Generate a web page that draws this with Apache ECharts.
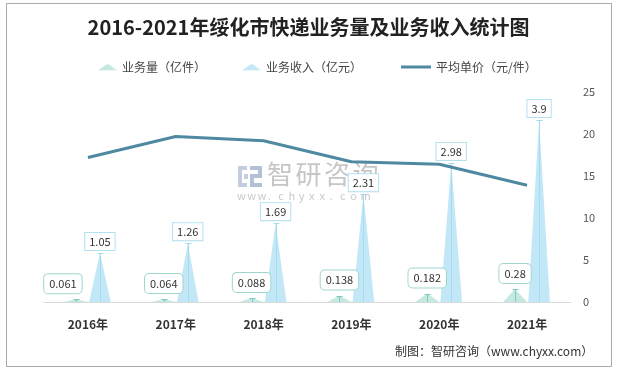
<!DOCTYPE html>
<html>
<head>
<meta charset="utf-8">
<script src="https://cdn.jsdelivr.net/npm/echarts@6/dist/echarts.min.js"></script>
<style>
html,body{margin:0;padding:0;background:#fff;}
#main{width:617px;height:370px;}
</style>
</head>
<body>
<div id="main"></div>
<script>
// ---- data ----
const categories = ['2016年', '2017年', '2018年', '2019年', '2020年', '2021年'];
const volume = [0.061, 0.064, 0.088, 0.138, 0.182, 0.28];      // 业务量（亿件）
const revenue = [1.05, 1.26, 1.69, 2.31, 2.98, 3.9];            // 业务收入（亿元）
const unitPrice = [17.2, 19.7, 19.2, 16.7, 16.4, 13.9];         // 平均单价（元/件）
const rightAxisMin = 0, rightAxisMax = 25, rightAxisInterval = 5;
const leftAxisMin = 0, leftAxisMax = 4.5;

const names = ['业务量（亿件）', '业务收入（亿元）', '平均单价（元/件）'];
const peak = 'path://M0,100 L100,100 L50,0 Z';
const legendPeak = 'path://M0,7 L20,7 L10,0 Z';
const FONT = '"Noto Sans CJK SC", "Noto Sans", sans-serif';

const chart = echarts.init(document.getElementById('main'), null, {renderer: 'canvas'});

function thinLine(offset, color, capHalf) {
  return function (params, api) {
    const idx = api.value(0);
    const v = api.value(1);
    const base = api.coord([idx, 0]);
    const top = api.coord([idx, v]);
    const x = Math.round(base[0] + offset) + 0.5;
    const yt = Math.round(top[1]) + 0.5;
    return {
      type: 'group',
      children: [
        {type: 'line', shape: {x1: x, y1: base[1], x2: x, y2: yt}, style: {stroke: color, lineWidth: 1}},
        {type: 'line', shape: {x1: x - capHalf, y1: yt, x2: x + capHalf, y2: yt}, style: {stroke: color, lineWidth: 1}}
      ]
    };
  };
}

// watermark text pieces (decoration)
const wmUrl = 'www.chyxx.com'.split('').map((c, i) => ({
  type: 'text', left: 237 + i * 10.3, top: 190, z: -1, silent: true,
  style: {text: c, fill: '#c9c9c9', font: '11px ' + FONT}
}));
const wmName = '智研咨询'.split('').map((c, i) => ({
  type: 'text', left: 267 + i * 28.5, top: 161, z: -1, silent: true,
  style: {text: c, fill: '#c6c6c6', font: '26px ' + FONT}
}));

const option = {
  backgroundColor: '#fff',
  animation: false,
  title: {
    text: '2016-2021年绥化市快递业务量及业务收入统计图',
    left: 'center', top: 12,
    textStyle: {fontSize: 20, fontWeight: 'bold', color: '#222', fontFamily: FONT}
  },
  legend: [
    {
      data: [{name: names[0], icon: legendPeak}, {name: names[1], icon: legendPeak}],
      left: 93, top: 56, itemWidth: 19, itemHeight: 8, itemGap: 36,
      textStyle: {fontSize: 12, color: '#444', fontFamily: FONT}
    },
    {
      data: [{name: names[2], icon: 'rect'}],
      left: 396, top: 56, itemWidth: 30, itemHeight: 3,
      textStyle: {fontSize: 12, color: '#444', fontFamily: FONT}
    }
  ],
  grid: {left: 44, right: 46, top: 92, bottom: 68},
  xAxis: {
    type: 'category',
    data: categories,
    axisLine: {lineStyle: {color: '#d9d9d9'}},
    axisTick: {show: false},
    axisLabel: {margin: 16, fontSize: 12, fontWeight: 'bold', color: '#333', fontFamily: FONT}
  },
  yAxis: [
    {
      type: 'value', show: false, min: leftAxisMin, max: leftAxisMax,
      splitLine: {show: false}
    },
    {
      type: 'value', position: 'right',
      min: rightAxisMin, max: rightAxisMax, interval: rightAxisInterval,
      axisLine: {show: false}, axisTick: {show: false}, splitLine: {show: false},
      axisLabel: {margin: 12, fontSize: 11, color: '#555', fontFamily: FONT}
    }
  ],
  graphic: [
    {type: 'rect', shape: {x: 6.5, y: 3.5, width: 605, height: 363}, style: {fill: 'none', stroke: '#a9a9a9', lineWidth: 1}, silent: true, z: 100},
    // watermark logo
    {type: 'rect', shape: {x: 238, y: 166, width: 9, height: 4}, style: {fill: '#c3cddd'}, silent: true, z: -1},
    {type: 'rect', shape: {x: 238, y: 166, width: 4, height: 21}, style: {fill: '#c3cddd'}, silent: true, z: -1},
    {type: 'rect', shape: {x: 238, y: 183, width: 9, height: 4}, style: {fill: '#c3cddd'}, silent: true, z: -1},
    {type: 'rect', shape: {x: 244, y: 174, width: 4, height: 5}, style: {fill: '#c3cddd'}, silent: true, z: -1},
    {type: 'rect', shape: {x: 250, y: 166, width: 12, height: 4}, style: {fill: '#b4c0d6'}, silent: true, z: -1},
    {type: 'rect', shape: {x: 258, y: 166, width: 4, height: 11}, style: {fill: '#b4c0d6'}, silent: true, z: -1},
    {type: 'rect', shape: {x: 250, y: 174, width: 12, height: 4}, style: {fill: '#b4c0d6'}, silent: true, z: -1},
    {type: 'rect', shape: {x: 250, y: 174, width: 4, height: 13}, style: {fill: '#b4c0d6'}, silent: true, z: -1},
    {type: 'rect', shape: {x: 250, y: 183, width: 12, height: 4}, style: {fill: '#b4c0d6'}, silent: true, z: -1},
    ...wmName,
    ...wmUrl,
    {type: 'text', left: 395, top: 345, silent: true,
      style: {text: '制图：智研咨询（www.chyxx.com）', fill: '#333', font: '12px ' + FONT}}
  ],
  series: [
    {
      name: names[0],
      type: 'pictorialBar',
      symbol: peak,
      barWidth: 24,
      barGap: '0%',
      yAxisIndex: 0,
      itemStyle: {color: '#c6e8e3'},
      label: {
        show: true, position: 'top', distance: 6,
        color: '#333', fontSize: 11, fontFamily: FONT,
        backgroundColor: '#fff', borderColor: '#9fd7cf', borderWidth: 1, borderRadius: 4,
        padding: [4, 5]
      },
      data: volume.map((v, i) => i === 0 ? {value: v, label: {offset: [-13, 0]}} : v),
      z: 2
    },
    {
      name: names[1],
      type: 'pictorialBar',
      symbol: peak,
      symbolSize: ['90%', '100%'],
      barWidth: 24,
      barGap: '0%',
      yAxisIndex: 0,
      itemStyle: {color: '#c2e8f8'},
      label: {
        show: true, position: 'top', distance: 3,
        color: '#333', fontSize: 11, fontFamily: FONT,
        backgroundColor: '#fff', borderColor: '#b3e0f2', borderWidth: 1,
        padding: [3, 4]
      },
      data: revenue,
      z: 2
    },
    {
      type: 'custom',
      yAxisIndex: 0,
      silent: true,
      renderItem: thinLine(-12, '#7fc9bf', 3),
      encode: {x: 0, y: 1},
      data: volume.map((v, i) => [i, v]),
      z: 3
    },
    {
      type: 'custom',
      yAxisIndex: 0,
      silent: true,
      renderItem: thinLine(12, '#a6dbef', 3),
      encode: {x: 0, y: 1},
      data: revenue.map((v, i) => [i, v]),
      z: 3
    },
    {
      name: names[2],
      type: 'line',
      yAxisIndex: 1,
      symbol: 'none',
      lineStyle: {width: 3, color: '#4f89a1'},
      itemStyle: {color: '#4f89a1'},
      data: unitPrice,
      z: 5
    }
  ]
};
chart.setOption(option);
</script>
</body>
</html>
